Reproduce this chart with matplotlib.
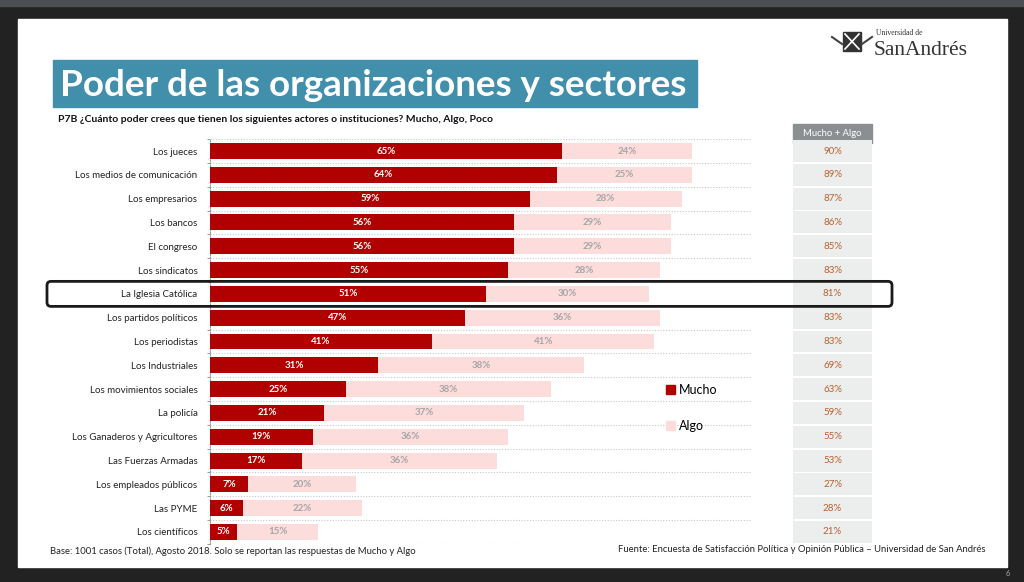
import matplotlib.pyplot as plt
from matplotlib.patches import Rectangle, FancyBboxPatch
from matplotlib.lines import Line2D

plt.rcParams['font.family'] = ['Lato', 'DejaVu Sans']

# data
categories = ['Los jueces', 'Los medios de comunicación', 'Los empresarios', 'Los bancos',
              'El congreso', 'Los sindicatos', 'La Iglesia Católica', 'Los partidos políticos',
              'Los periodistas', 'Los Industriales', 'Los movimientos sociales', 'La policía',
              'Los Ganaderos y Agricultores', 'Las Fuerzas Armadas', 'Los empleados públicos',
              'Las PYME', 'Los científicos']
mucho = [65, 64, 59, 56, 56, 55, 51, 47, 41, 31, 25, 21, 19, 17, 7, 6, 5]
algo = [24, 25, 28, 29, 29, 28, 30, 36, 41, 38, 38, 37, 36, 36, 20, 22, 15]
mucho_algo = [90, 89, 87, 86, 85, 83, 81, 83, 83, 69, 63, 59, 55, 53, 27, 28, 21]
highlight = 'La Iglesia Católica'

RED = '#b00000'
PINK = '#fddcdc'
W, H = 1024, 582

fig = plt.figure(figsize=(W / 100, H / 100), dpi=100)


def px_axes(x0, y0, x1, y1, **kw):
    # axes placed by pixel box (top-left origin)
    return fig.add_axes([x0 / W, 1 - y1 / H, (x1 - x0) / W, (y1 - y0) / H], **kw)


# background: screen frame, slide, title banner
bg = px_axes(0, 0, W, H, zorder=0)
bg.set_xlim(0, W)
bg.set_ylim(H, 0)
bg.axis('off')
bg.add_patch(Rectangle((0, 0), W, H, color='#222222'))
bg.add_patch(Rectangle((0, 0), W, 6, color='#4b4f53'))
bg.add_patch(Rectangle((18, 19), 989, 548, color='white'))
bg.add_patch(Rectangle((53, 60), 644, 47, color='#428fac'))
bg.text(60, 85, 'Poder de las organizaciones y sectores', color='white',
        fontsize=26.5, fontweight='bold', va='center', ha='left')
bg.text(58, 120, 'P7B ¿Cuánto poder crees que tienen los siguientes actores o instituciones? Mucho, Algo, Poco',
        color='#111111', fontsize=7.5, fontweight='bold', va='center', ha='left')
bg.text(50, 551, 'Base: 1001 casos (Total), Agosto 2018. Solo se reportan las respuestas de Mucho y Algo',
        color='#222222', fontsize=6.8, va='center', ha='left')
bg.text(986, 550, 'Fuente: Encuesta de Satisfacción Política y Opinión Pública – Universidad de San Andrés',
        color='#222222', fontsize=6.8, va='center', ha='right')
bg.text(1008, 574, '6', color='#aaaaaa', fontsize=5.5, va='center', ha='center')

# logo (rough)
bg.add_patch(Rectangle((843, 32), 18, 19, facecolor='#333333', edgecolor='#333333'))
bg.add_line(Line2D([845, 859], [34, 49], color='white', lw=1.2))
bg.add_line(Line2D([859, 845], [34, 49], color='white', lw=1.2))
bg.add_line(Line2D([832, 842], [37, 44], color='#444444', lw=1.5))
bg.add_line(Line2D([862, 872], [44, 37], color='#444444', lw=1.5))
bg.text(876, 35, 'Universidad de', family=['Liberation Serif'], fontsize=5.5,
        color='#333333', va='baseline', ha='left')
bg.text(874, 55, 'SanAndrés', family=['Liberation Serif'], fontsize=15.5,
        color='#333333', va='baseline', ha='left')

# bar chart
n = len(categories)
ax = px_axes(210, 139.1, 752, 543.9, zorder=2)
ax.patch.set_alpha(0)
ax.set_xlim(0, 100)
ax.set_ylim(n - 0.5, -0.5)
y = list(range(n))
ax.barh(y, mucho, height=0.67, color=RED, zorder=3)
ax.barh(y, algo, left=mucho, height=0.67, color=PINK, zorder=3)
for i in range(n):
    ax.text(mucho[i] / 2, i, f'{mucho[i]}%', color='white', fontsize=7,
            fontweight='bold', ha='center', va='center', zorder=4)
    ax.text(mucho[i] + algo[i] / 2, i, f'{algo[i]}%', color='#a6a6a6', fontsize=7,
            fontweight='bold', ha='center', va='center', zorder=4)
for k in range(n + 1):
    ax.axhline(k - 0.5, color='#c8c8c8', lw=0.8, ls=(0, (1, 1.5)), zorder=1)
ax.set_yticks(y)
ax.set_yticklabels(categories, fontsize=7, color='#222222')
ax.set_yticks([k - 0.5 for k in range(n + 1)], minor=True)
ax.tick_params(axis='y', which='major', length=0, pad=9)
ax.tick_params(axis='y', which='minor', length=2.5, color='#888888', width=0.6)
ax.set_xticks([])
for s in ['top', 'right', 'bottom']:
    ax.spines[s].set_visible(False)
ax.spines['left'].set_color('#999999')
ax.spines['left'].set_linestyle((0, (1, 1.5)))
ax.spines['left'].set_linewidth(0.8)

# legend
handles = [Rectangle((0, 0), 1, 1, color=RED), Rectangle((0, 0), 1, 1, color=PINK)]
ax.legend(handles, ['Mucho', 'Algo'], loc='upper left',
          bbox_to_anchor=((666 - 210) / 542, 1 - (384 - 139.1) / 404.8),
          frameon=False, fontsize=9, handlelength=0.7, handleheight=0.7,
          handletextpad=0.3, labelspacing=1.9, borderaxespad=0, borderpad=0)

# Mucho + Algo column
tab = px_axes(793, 139.1, 872, 543.9, zorder=2)
tab.patch.set_alpha(0)
tab.set_xlim(0, 1)
tab.set_ylim(n - 0.5, -0.5)
tab.axis('off')
tab.barh(y, [1] * n, height=0.92, color='#eceeee')
for i in range(n):
    tab.text(0.5, i, f'{mucho_algo[i]}%', color='#b8602f', fontsize=7,
             ha='center', va='center')
bg.add_patch(Rectangle((793, 124), 79, 19, color='#8c8f91'))
bg.text(832.5, 133.5, 'Mucho + Algo', color='white', fontsize=6.8, ha='center', va='center')

# highlight box around one row
ov = px_axes(0, 0, W, H, zorder=5)
ov.set_xlim(0, W)
ov.set_ylim(H, 0)
ov.axis('off')
ov.patch.set_alpha(0)
hy = 139.1 + (categories.index(highlight) + 0.5) * 404.8 / n
ov.add_patch(FancyBboxPatch((47, hy - 12.5), 845, 25,
                            boxstyle='round,pad=0,rounding_size=4',
                            fill=False, edgecolor='#1a1a1a', lw=2))

fig.savefig('out.png', dpi=100)
